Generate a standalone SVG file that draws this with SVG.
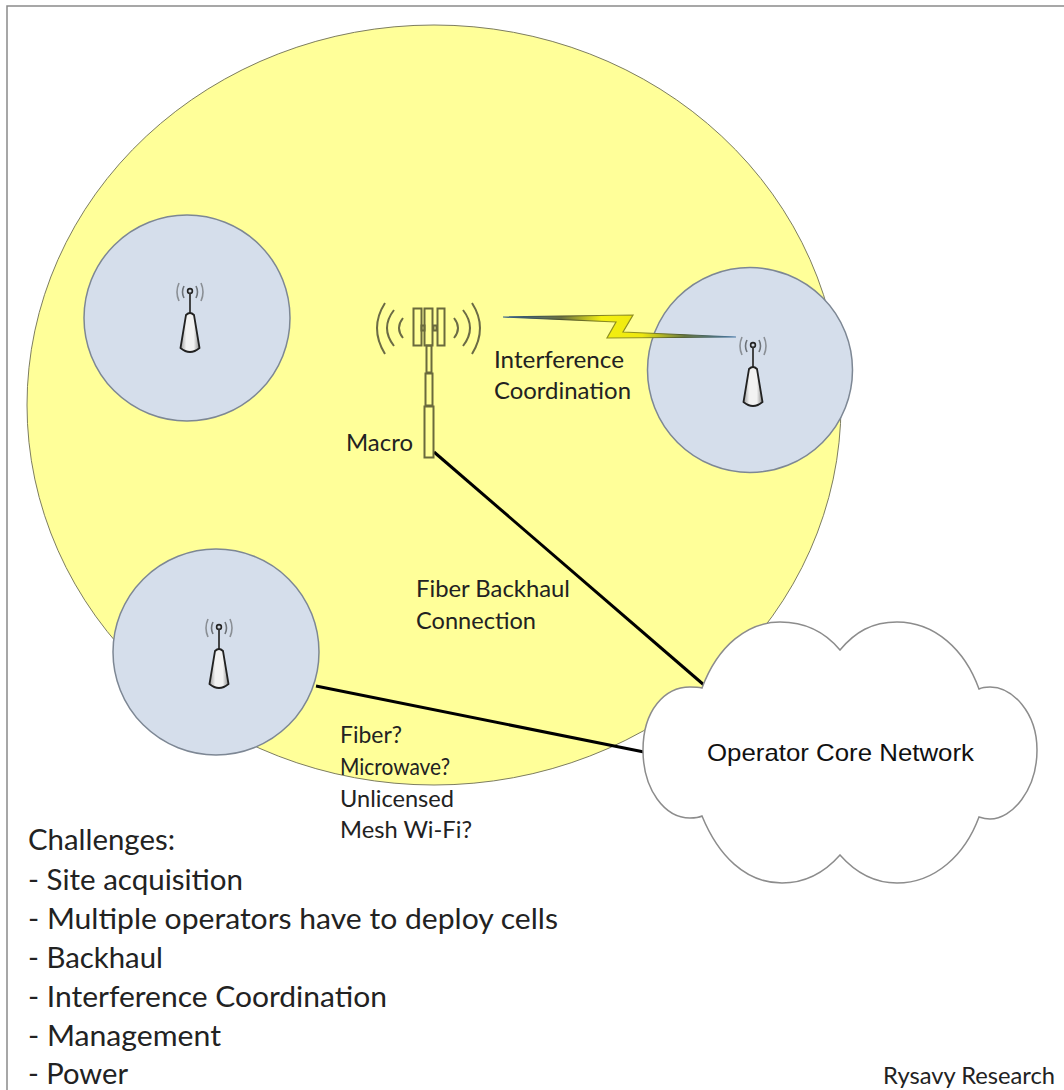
<svg xmlns="http://www.w3.org/2000/svg" width="1064" height="1090" viewBox="0 0 1064 1090">
<style>
text{font-family:"Lato","Open Sans","Liberation Sans",sans-serif;fill:#222}
.l{font-size:24px}
.b{font-size:28px}
.cell{fill:#d5deeb;stroke:#7d8794;stroke-width:1.5}
.tw{fill:none;stroke:#6a6a3c;stroke-width:2}
.ar{fill:none;stroke:#6b6b45;stroke-width:2}
.ln{stroke:#000;stroke-width:3;fill:none}
</style>
<defs>
<linearGradient id="body" x1="0" x2="1" y1="0" y2="0"><stop offset="0" stop-color="#9a9a9a"/><stop offset=".3" stop-color="#f2f2f2"/><stop offset=".7" stop-color="#f2f2f2"/><stop offset="1" stop-color="#8a8a8a"/></linearGradient>
<linearGradient id="bolt" gradientUnits="userSpaceOnUse" x1="503" y1="317" x2="736" y2="337"><stop offset="0" stop-color="#3f6d9c"/><stop offset=".25" stop-color="#6a7040"/><stop offset=".42" stop-color="#f4f010"/><stop offset=".6" stop-color="#eee810"/><stop offset=".78" stop-color="#6a7a40"/><stop offset="1" stop-color="#4a7aa8"/></linearGradient>
<linearGradient id="boltEdge" gradientUnits="userSpaceOnUse" x1="503" y1="317" x2="736" y2="337"><stop offset="0" stop-color="#35608c"/><stop offset=".25" stop-color="#4e5230"/><stop offset=".45" stop-color="#8f8f20"/><stop offset=".6" stop-color="#8f8f20"/><stop offset=".78" stop-color="#4e5a30"/><stop offset="1" stop-color="#4a7aa8"/></linearGradient>
<g id="ap">
<path d="M179 283Q175 292 179 301M201 283Q205 292 201 301" fill="none" stroke="#8a8f95" stroke-width="1.6"/>
<path d="M184 286Q181 292 184 298M196 286Q199 292 196 298" fill="none" stroke="#6d7278" stroke-width="1.6"/>
<circle cx="190" cy="291" r="2.4" fill="#cfd6df" stroke="#222" stroke-width="1.6"/>
<path d="M190 293V314" stroke="#333" stroke-width="1.8"/>
<path d="M186 315Q190 311 194 315L199.500 348Q190 356 180.500 348Z" fill="url(#body)" stroke="#222" stroke-width="1.8"/>
</g>
</defs>
<rect id="frame" x="7" y="6" width="1060" height="1090" fill="#fff" stroke="#8a8a8a" stroke-width="1.5"/>
<g id="macro-area"><ellipse cx="434" cy="405" rx="407" ry="380" fill="#ffff99" stroke="#7d7d60" stroke-width="1"/></g>
<g id="cell-top-left"><circle class="cell" cx="187" cy="318" r="103"/><use href="#ap"/></g>
<g id="cell-right"><circle class="cell" cx="750" cy="370" r="102.500"/><use href="#ap" x="563" y="54"/></g>
<g id="connectors">
<path class="ln" d="M434 452L704 685"/>
<path class="ln" d="M316 686L644 752"/>
<path d="M503 317L633 315L623 332L736 337L607 338L616 322Z" fill="url(#bolt)" stroke="url(#boltEdge)" stroke-width="1.2"/>
</g>
<g id="cell-bottom-left"><circle class="cell" cx="216" cy="652" r="103"/><use href="#ap" x="29" y="336"/></g>
<g id="macro-tower">
<path class="ar" d="M385 303Q369 328 385 354M394 310Q380 328 394 346M403 318Q395 328 403 338M472 303Q488 328 472 354M463 310Q477 328 463 346M454 318Q462 328 454 338"/>
<rect class="tw" x="413.500" y="308.500" width="8" height="37"/>
<rect class="tw" x="424.500" y="308.500" width="8" height="37"/>
<rect class="tw" x="437.500" y="308.500" width="7" height="37"/>
<rect class="tw" x="421.500" y="325.500" width="3" height="5"/>
<rect class="tw" x="433.500" y="325.500" width="3" height="5"/>
<rect class="tw" x="426.500" y="345.500" width="5" height="27"/>
<rect class="tw" x="425.500" y="373.500" width="7" height="32"/>
<rect class="tw" x="424.500" y="406.500" width="9" height="51"/>
<text class="l" x="346" y="451" textLength="67" lengthAdjust="spacingAndGlyphs">Macro</text>
</g>
<g id="core-network">
<path d="M702 688C718 645 748 622 780 622C805 622 825 632 840 650C855 632 872 622 897 622C935 622 965 650 979 689C983 687 987 687 990 687C1012 687 1037 712 1037 750C1037 790 1012 819 990 819C986 819 982 818 979 817C965 855 935 883 897 883C875 883 855 872 840 855C825 872 805 883 782 883C745 883 718 855 702 816C698 818 694 818 690 818C665 818 643 790 643 750C643 710 665 687 690 687C694 687 698 687 702 688Z" fill="#fff" stroke="#8c8c8c" stroke-width="1.5"/>
<text x="707" y="761" textLength="267" lengthAdjust="spacingAndGlyphs" style="font-family:'Liberation Sans',Arial,sans-serif;font-size:24px;fill:#111">Operator Core Network</text>
</g>
<g id="labels">
<text class="l" x="494" y="368" textLength="130" lengthAdjust="spacingAndGlyphs">Interference</text>
<text class="l" x="494" y="399" textLength="137" lengthAdjust="spacingAndGlyphs">Coordination</text>
<text class="l" x="416" y="597" textLength="154" lengthAdjust="spacingAndGlyphs">Fiber Backhaul</text>
<text class="l" x="416" y="629" textLength="120" lengthAdjust="spacingAndGlyphs">Connection</text>
<text class="l" x="340" y="743" textLength="62" lengthAdjust="spacingAndGlyphs">Fiber?</text>
<text class="l" x="340" y="775" textLength="110" lengthAdjust="spacingAndGlyphs">Microwave?</text>
<text class="l" x="340" y="807" textLength="114" lengthAdjust="spacingAndGlyphs">Unlicensed</text>
<text class="l" x="340" y="838" textLength="132" lengthAdjust="spacingAndGlyphs">Mesh Wi-Fi?</text>
<text class="l" x="883" y="1084" textLength="172" lengthAdjust="spacingAndGlyphs">Rysavy Research</text>
</g>
<g id="challenges">
<text class="b" x="28" y="850" textLength="147" lengthAdjust="spacingAndGlyphs">Challenges:</text>
<text class="b" x="28" y="890" textLength="215" lengthAdjust="spacingAndGlyphs">- Site acquisition</text>
<text class="b" x="28" y="929" textLength="530" lengthAdjust="spacingAndGlyphs">- Multiple operators have to deploy cells</text>
<text class="b" x="28" y="968" textLength="135" lengthAdjust="spacingAndGlyphs">- Backhaul</text>
<text class="b" x="28" y="1007" textLength="359" lengthAdjust="spacingAndGlyphs">- Interference Coordination</text>
<text class="b" x="28" y="1046" textLength="193" lengthAdjust="spacingAndGlyphs">- Management</text>
<text class="b" x="28" y="1084" textLength="100" lengthAdjust="spacingAndGlyphs">- Power</text>
</g>
</svg>
